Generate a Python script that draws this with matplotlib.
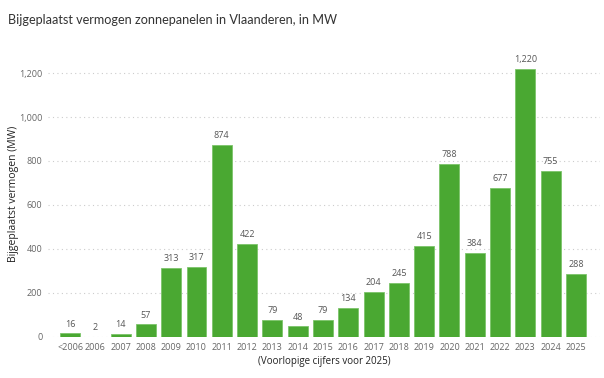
import matplotlib.pyplot as plt
import numpy as np

plt.rcParams['font.family'] = ['Open Sans', 'DejaVu Sans']

years = ['<2006', '2006', '2007', '2008', '2009', '2010', '2011', '2012', '2013', '2014',
         '2015', '2016', '2017', '2018', '2019', '2020', '2021', '2022', '2023', '2024', '2025']
values = [16, 2, 14, 57, 313, 317, 874, 422, 79, 48,
          79, 134, 204, 245, 415, 788, 384, 677, 1220, 755, 288]

green = '#4aa832'

fig = plt.figure(figsize=(6.04, 3.78), dpi=100)
ax = fig.add_axes([48 / 604, 41 / 378, 552 / 604, 286 / 378])

x = np.arange(len(years))
ax.bar(x, values, width=0.79, color=green, edgecolor='#7cc46a', linewidth=0.6, zorder=3)

for xi, v in zip(x, values):
    ax.text(xi, v + 22, f'{v:,}', ha='center', va='bottom', fontsize=6.5, color='#555555')

ax.set_xlim(-0.87, 20.95)
ax.set_ylim(0, 1300)
yticks = [0, 200, 400, 600, 800, 1000, 1200]
ax.set_yticks(yticks)
ax.set_yticklabels([f'{t:,}' for t in yticks])
ax.set_xticks(x)
ax.set_xticklabels(years)
ax.tick_params(axis='both', length=0, labelsize=6.5, colors='#666666')
ax.tick_params(axis='x', pad=4)
ax.tick_params(axis='y', pad=4)
ax.yaxis.grid(True, linestyle=(0, (1, 3)), color='#cccccc', linewidth=0.8, zorder=0)
for s in ax.spines.values():
    s.set_visible(False)

ax.set_ylabel('Bijgeplaatst vermogen (MW)', fontsize=7.5, color='#222222')
ax.yaxis.set_label_coords(-0.052, 0.5)
ax.set_xlabel('(Voorlopige cijfers voor 2025)', fontsize=7, color='#222222', labelpad=3)

fig.text(8 / 604, 1 - 20 / 378, 'Bijgeplaatst vermogen zonnepanelen in Vlaanderen, in MW',
         fontsize=9.1, color='#333333', va='center', ha='left', family='Lato')

fig.savefig('out.png', dpi=100)
